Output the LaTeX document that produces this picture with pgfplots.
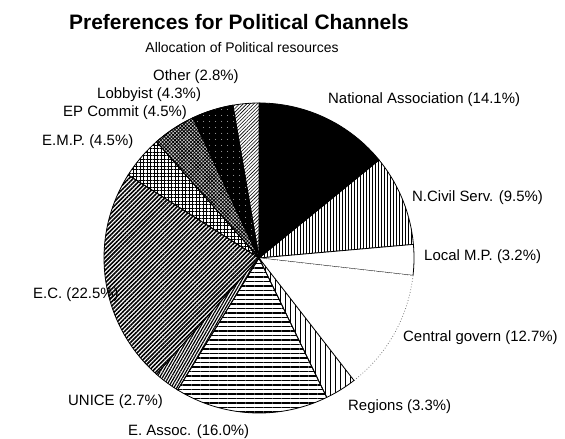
\documentclass[border=0pt]{standalone}
\usepackage{pgfplots}
\pgfplotsset{compat=1.18}
\usepackage{fontspec}
\setmainfont{Liberation Sans}
\usetikzlibrary{patterns.meta}

\newcommand\startang{90}
% #1 = percentage (data), #2 = style
\newcommand\pieslice[2]{%
  \pgfmathsetmacro\endang{\startang-3.6*#1}%
  \edef\tmp{\noexpand\addplot[mark=none, draw=black, line width=0.8bp, #2,
      domain=\endang:\startang, samples=60]
      ({cos(x)},{sin(x)}) -- (axis cs:0,0) -- cycle;}%
  \tmp
  \global\let\startang\endang
}

\begin{document}
\begin{tikzpicture}
\path[use as bounding box] (0,0) rectangle (565bp,-439bp);

\begin{axis}[at={(259bp,-258bp)}, anchor=center,
  width=310bp, height=310bp, scale only axis,
  xmin=-1, xmax=1, ymin=-1, ymax=1, hide axis, clip=false]
  % National Association
  \pieslice{14.1}{fill=black}
  % N.Civil Serv.
  \pieslice{9.5}{pattern={Lines[angle=90,distance=3bp,line width=0.9bp]}}
  % Local M.P.
  \pieslice{3.2}{fill=white}
  % Central govern
  \pieslice{12.7}{fill=white, draw=gray, dotted}
  % Regions
  \pieslice{3.3}{pattern={Lines[angle=90,distance=5bp,line width=0.6bp]}}
  % E. Assoc.
  \pieslice{16.0}{pattern={Lines[angle=0,distance=4.5bp,line width=1.6bp]}}
  % UNICE
  \pieslice{2.7}{pattern={Lines[angle=60,distance=2.5bp,line width=1.2bp]}}
  % E.C.
  \pieslice{22.5}{pattern={Lines[angle=45,distance=3bp,line width=1.6bp]}}
  % E.M.P.
  \pieslice{4.5}{pattern={Hatch[angle=0,distance=3.5bp,line width=0.9bp]}}
  % EP Commit
  \pieslice{4.5}{preaction={fill=gray!35}, pattern={Hatch[angle=45,distance=2.5bp,line width=0.8bp]}}
  % Lobbyist
  \pieslice{4.3}{preaction={fill=black}, pattern={Dots[distance=6bp,radius=0.5bp]}, pattern color=white}
  % Other
  \pieslice{2.8}{pattern={Lines[angle=45,distance=2.5bp,line width=0.6bp]}}
\end{axis}

\node[font=\bfseries\fontsize{21}{24}\selectfont] at (239bp,-22bp) {Preferences for Political Channels};
\node[font=\fontsize{14}{16}\selectfont] at (242bp,-48bp) {Allocation of Political resources};

\begin{scope}[every node/.style={anchor=west, inner sep=0pt, font=\fontsize{15}{17}\selectfont}]
\node at (328bp,-100bp) {National Association (14.1\%)};
\node at (412bp,-198bp) {N.Civil Serv. (9.5\%)};
\node at (424bp,-257bp) {Local M.P. (3.2\%)};
\node at (403bp,-338bp) {Central govern (12.7\%)};
\node at (348bp,-407bp) {Regions (3.3\%)};
\node at (128bp,-432bp) {E. Assoc. (16.0\%)};
\node at (68bp,-402bp) {UNICE (2.7\%)};
\node at (33bp,-295bp) {E.C. (22.5\%)};
\node at (42bp,-142bp) {E.M.P. (4.5\%)};
\node at (63bp,-113bp) {EP Commit (4.5\%)};
\node at (97bp,-95bp) {Lobbyist (4.3\%)};
\node at (153bp,-77bp) {Other (2.8\%)};
\end{scope}
\end{tikzpicture}
\end{document}
